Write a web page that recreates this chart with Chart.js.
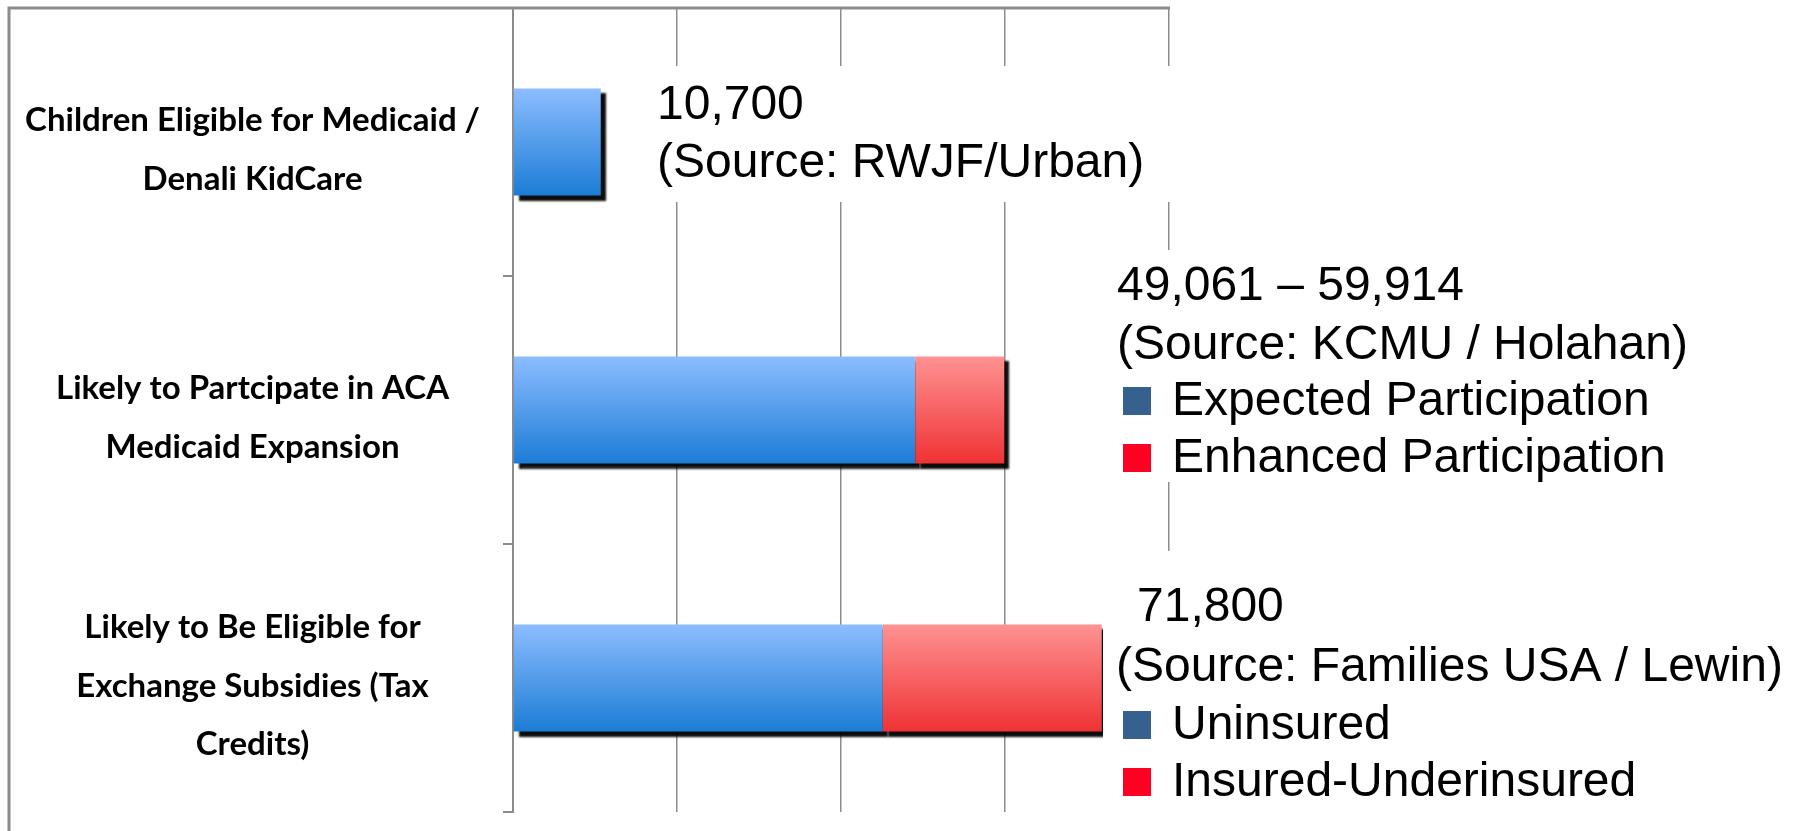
<!DOCTYPE html>
<html>
<head>
<meta charset="utf-8">
<script src="https://cdn.jsdelivr.net/npm/chart.js@4/dist/chart.umd.min.js"></script>
<style>
  html, body { margin: 0; padding: 0; background: #fff; }
  #wrap { width: 1800px; height: 831px; position: relative; }
</style>
</head>
<body>
<div id="wrap"><canvas id="ourChart"></canvas></div>
<script>
// categories (multi-line labels)
const labelsNames = [
    ['Children Eligible for Medicaid /', 'Denali KidCare'],
    ['Likely to Partcipate in ACA', 'Medicaid Expansion'],
    ['Likely to Be Eligible for', 'Exchange Subsidies (Tax', 'Credits)']
];
// base (blue) and top-up (red) segments
const baseValues = [10700, 49061, 45100];
const extraValues = [null, 10853, 26700];
const xTicks = [0, 20000, 40000, 60000, 80000];

// side notes
const noteTitles = ['10,700', '49,061 \u2013 59,914', '71,800'];
const noteSources = ['(Source: RWJF/Urban)', '(Source: KCMU / Holahan)', '(Source: Families USA / Lewin)'];
const noteKeys = [[], ['Expected Participation', 'Enhanced Participation'], ['Uninsured', 'Insured-Underinsured']];

const keyColors = ['#36618f', '#ff0022'];
const gridGray = '#8c8c8c';

// where the note boxes sit (white box covers the grid behind)
const noteLayout = [
    { box: [645, 66, 540, 136], titleX: 657, textX: 657, rows: [106, 164] },
    { box: [1105, 250, 695, 232], titleX: 1117, textX: 1117, rows: [287, 346, 402, 459] },
    { box: [1103, 551, 697, 280], titleX: 1137, textX: 1116, rows: [608, 668, 726, 783] }
];

function barFill(top, bottom) {
    return (c) => {
        const chart = c.chart;
        const ys = chart.scales.y;
        if (!ys || c.dataIndex === undefined || !chart.chartArea) return bottom;
        const y = ys.getPixelForValue(c.dataIndex);
        const half = ys.height / chart.data.labels.length * 0.4 / 2;
        const g = chart.ctx.createLinearGradient(0, y - half, 0, y + half);
        g.addColorStop(0, top);
        g.addColorStop(1, bottom);
        return g;
    };
}

// draw blue then red so the red piece covers the blue shadow
const shadowPlugin = {
    id: 'shadow',
    beforeDatasetsDraw(chart) {
        const ctx = chart.ctx;
        ctx.save();
        ctx.shadowColor = 'rgba(0,0,0,0.95)';
        ctx.shadowOffsetX = 5;
        ctx.shadowOffsetY = 5;
        ctx.shadowBlur = 2;
        chart.data.datasets.forEach((ds, i) => {
            chart.getDatasetMeta(i).data.forEach((el, j) => {
                if (ds.data[j] != null) el.draw(ctx, chart.chartArea);
            });
        });
        ctx.restore();
    },
    beforeDatasetDraw() {
        return false;
    }
};

// nudge the category labels a little lower, like the original
const labelNudge = {
    id: 'labelNudge',
    beforeDraw(chart) {
        chart.scales.y.getLabelItems().forEach((it) => {
            if (!it._nudged) {
                it.options.translation[1] += 8;
                it._nudged = true;
            }
        });
    }
};

const framePlugin = {
    id: 'frame',
    afterDraw(chart) {
        const ctx = chart.ctx;
        const top = chart.chartArea.top;
        const left = chart.scales.y.left;
        ctx.save();
        ctx.strokeStyle = gridGray;
        ctx.lineWidth = 3;
        ctx.beginPath();
        ctx.moveTo(left, chart.height);
        ctx.lineTo(left, top);
        ctx.lineTo(chart.scales.x.right + 1, top);
        ctx.stroke();
        ctx.restore();
    }
};

const notesPlugin = {
    id: 'notes',
    afterDraw(chart) {
        const ctx = chart.ctx;
        ctx.save();
        ctx.font = '48px "Liberation Sans", Arial, sans-serif';
        ctx.textBaseline = 'middle';
        ctx.textAlign = 'left';
        noteLayout.forEach((n, i) => {
            ctx.fillStyle = '#fff';
            ctx.fillRect(n.box[0], n.box[1], n.box[2], n.box[3]);
            ctx.fillStyle = '#000';
            ctx.fillText(noteTitles[i], n.titleX, n.rows[0]);
            ctx.fillText(noteSources[i], n.textX, n.rows[1]);
            noteKeys[i].forEach((k, j) => {
                const y = n.rows[2 + j];
                ctx.fillStyle = keyColors[j];
                ctx.fillRect(1123, y - 15, 28, 28);
                ctx.fillStyle = '#000';
                ctx.fillText(k, 1172, y);
            });
        });
        ctx.restore();
    }
};

new Chart(document.getElementById('ourChart'), {
    type: 'bar',
    data: {
        labels: labelsNames,
        datasets: [
            {
                label: 'Base',
                data: baseValues,
                backgroundColor: barFill('#8cbdff', '#1c7cd5'),
                borderWidth: 0,
                barPercentage: 0.4,
                categoryPercentage: 1
            },
            {
                label: 'Extra',
                data: extraValues,
                backgroundColor: barFill('#ff9292', '#ef3234'),
                borderWidth: 0,
                barPercentage: 0.4,
                categoryPercentage: 1
            }
        ]
    },
    options: {
        indexAxis: 'y',
        responsive: true,
        maintainAspectRatio: false,
        animation: false,
        layout: { padding: { left: 9, top: 8, right: 631, bottom: 19 } },
        scales: {
            x: {
                stacked: true,
                min: 0,
                max: 80000,
                afterBuildTicks: (s) => { s.ticks = xTicks.map(v => ({ value: v })); },
                ticks: { display: false },
                grid: { color: gridGray, lineWidth: 1.5, drawTicks: false },
                border: { display: false }
            },
            y: {
                stacked: true,
                afterFit: (s) => {
                    s.width = 504;
                    s.paddingTop = 0;
                    s.paddingBottom = 0;
                },
                ticks: {
                    color: '#000',
                    crossAlign: 'center',
                    padding: 23,
                    font: { family: 'Lato, "Open Sans", sans-serif', size: 33, weight: 'bold', lineHeight: 1.78 }
                },
                grid: { offset: true, drawOnChartArea: false, tickLength: 10, color: gridGray, lineWidth: 2 },
                border: { color: gridGray, width: 2 }
            }
        },
        plugins: {
            legend: { display: false },
            tooltip: { enabled: false }
        }
    },
    plugins: [shadowPlugin, labelNudge, framePlugin, notesPlugin]
});
</script>
</body>
</html>
